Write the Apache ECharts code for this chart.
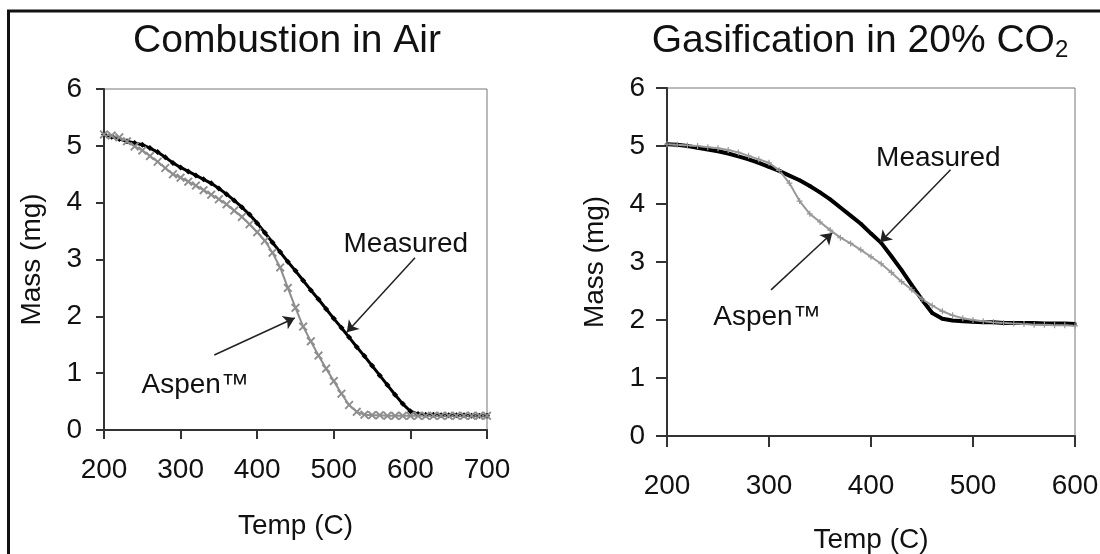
<!DOCTYPE html>
<html>
<head>
<meta charset="utf-8">
<title>Combustion / Gasification</title>
<script src="https://cdn.jsdelivr.net/npm/echarts@6.0.0/dist/echarts.min.js"></script>
<style>
html,body{margin:0;padding:0;background:#fff;}
#main{width:1100px;height:554px;}
</style>
</head>
<body>
<div id="main"></div>
<script>
var FONT = '"Liberation Sans", Arial, sans-serif';

// 燃烧 - 空气
var airTemp = [200,210,220,230,240,250,260,270,280,290,300,310,320,330,340,350,360,370,380,390,
  400,410,420,430,440,450,460,470,480,490,500,510,520,530,540,550,560,570,580,590,
  600,610,620,630,640,650,660,670,680,690,700];
var airMeasured = [5.20,5.16,5.12,5.08,5.05,5.02,4.96,4.89,4.80,4.70,
  4.62,4.55,4.48,4.41,4.34,4.25,4.15,4.04,3.92,3.79,
  3.64,3.47,3.30,3.13,2.96,2.80,2.63,2.46,2.30,2.13,
  1.96,1.80,1.63,1.46,1.30,1.13,0.96,0.79,0.62,0.46,
  0.33,0.28,0.27,0.27,0.26,0.26,0.26,0.26,0.25,0.25,0.25];
var airAspen = [5.20,5.18,5.15,5.08,4.99,4.92,4.82,4.72,4.61,4.50,
  4.44,4.37,4.30,4.22,4.14,4.06,3.97,3.86,3.75,3.62,
  3.48,3.33,3.12,2.86,2.50,2.15,1.82,1.56,1.31,1.08,
  0.86,0.64,0.44,0.32,0.27,0.26,0.26,0.25,0.25,0.25,
  0.25,0.25,0.25,0.25,0.25,0.25,0.25,0.25,0.25,0.25,0.25];

// 气化 - 20% CO2
var co2Temp = [200,210,220,230,240,250,260,270,280,290,300,310,320,330,340,350,360,370,380,390,
  400,410,420,430,440,450,460,470,480,490,500,510,520,530,540,550,560,570,580,590,600];
var co2Measured = [5.03,5.02,5.00,4.97,4.94,4.91,4.87,4.82,4.77,4.71,
  4.64,4.57,4.49,4.41,4.31,4.20,4.08,3.94,3.80,3.66,
  3.49,3.33,3.10,2.86,2.60,2.35,2.12,2.02,1.99,1.98,
  1.97,1.96,1.96,1.95,1.95,1.95,1.95,1.94,1.94,1.94,1.93];
var co2Aspen = [5.03,5.02,5.01,5.00,4.98,4.96,4.93,4.89,4.83,4.77,
  4.71,4.58,4.36,4.05,3.83,3.69,3.55,3.42,3.32,3.21,
  3.09,2.97,2.82,2.66,2.52,2.36,2.25,2.15,2.08,2.03,
  2.00,1.98,1.96,1.95,1.94,1.93,1.92,1.92,1.91,1.91,1.90];

var yTicks = [0,1,2,3,4,5,6];

// annotations: [text T, text m], arrow [from T, from m, to T, to m]
var airMeasuredNote = [594, 3.26], airMeasuredArrow = [606, 3.03, 517, 1.72];
var airAspenNote = [319, 0.79], airAspenArrow = [344, 1.32, 449, 1.97];
var co2MeasuredNote = [466, 4.79], co2MeasuredArrow = [478, 4.59, 409, 3.34];
var co2AspenNote = [298, 2.05], co2AspenArrow = [302, 2.52, 362, 3.50];

var CROSS = 'path://M0,1.5L1.5,0L5,3.5L8.5,0L10,1.5L6.5,5L10,8.5L8.5,10L5,6.5L1.5,10L0,8.5L3.5,5Z';
var PLUS = 'path://M4,0L6,0L6,4L10,4L10,6L6,6L6,10L4,10L4,6L0,6L0,4L4,4Z';

function pairs(xs, ys){
  return xs.map(function(x, i){ return [x, ys[i]]; });
}

function note(p, txt){
  return {
    coord: p, symbol: 'rect', symbolSize: 1,
    itemStyle: {color: 'rgba(0,0,0,0)'},
    label: {show: true, position: 'inside', formatter: txt, color: '#111', fontSize: 28, fontFamily: FONT}
  };
}

function arrow(a){
  return {
    silent: true, animation: false,
    symbol: ['none', 'arrow'], symbolSize: 11,
    lineStyle: {color: '#222', width: 1.5, type: 'solid'},
    label: {show: false},
    emphasis: {disabled: true},
    data: [[{coord: [a[0], a[1]]}, {coord: [a[2], a[3]]}]]
  };
}

function xAxisOf(idx, max, tick, margin, gap){
  return {
    gridIndex: idx, type: 'value', min: 200, max: max, interval: 100,
    axisLine: {show: true, lineStyle: {color: '#333', width: 2}},
    axisTick: {show: true, length: tick, lineStyle: {color: '#333', width: 2}},
    axisLabel: {margin: margin, fontSize: 28, color: '#111', fontFamily: FONT},
    splitLine: {show: false},
    name: 'Temp (C)', nameLocation: 'middle', nameGap: gap,
    nameTextStyle: {fontSize: 28, color: '#111', fontFamily: FONT}
  };
}

function yAxisOf(idx, tick, gap){
  return {
    gridIndex: idx, type: 'value', min: yTicks[0], max: yTicks[yTicks.length - 1], interval: 1,
    axisLine: {show: true, lineStyle: {color: '#333', width: 2}},
    axisTick: {show: true, length: tick, lineStyle: {color: '#333', width: 2}},
    axisLabel: {margin: 22, fontSize: 28, color: '#111', fontFamily: FONT},
    splitLine: {show: false},
    name: 'Mass (mg)', nameLocation: 'middle', nameGap: gap,
    nameTextStyle: {fontSize: 28, color: '#111', fontFamily: FONT}
  };
}

var chart = echarts.init(document.getElementById('main'), null, {renderer: 'canvas'});

var option = {
  backgroundColor: '#fff',
  animation: false,
  grid: [
    {left: 104, top: 89, width: 383, height: 341, show: true, borderColor: '#777', borderWidth: 1, outerBoundsMode: 'none'},
    {left: 667, top: 88, width: 408, height: 348, show: true, borderColor: '#777', borderWidth: 1, outerBoundsMode: 'none'}
  ],
  xAxis: [xAxisOf(0, 700, 9, 26, 82), xAxisOf(1, 600, 11, 36, 90)],
  yAxis: [yAxisOf(0, 8, 58), yAxisOf(1, 11, 58)],
  graphic: [
    {type: 'line', shape: {x1: 7, y1: 11, x2: 1100, y2: 11}, style: {stroke: '#111', lineWidth: 3}},
    {type: 'line', shape: {x1: 8.5, y1: 10, x2: 8.5, y2: 554}, style: {stroke: '#111', lineWidth: 3}},
    {type: 'text', x: 287, y: 41, style: {
      text: 'Combustion in Air', font: '39px ' + FONT, fill: '#111', align: 'center', verticalAlign: 'middle'}},
    {type: 'text', x: 860, y: 41, style: {
      text: 'Gasification in 20% CO{sub|2}', font: '39px ' + FONT, fill: '#111', align: 'center', verticalAlign: 'middle',
      rich: {sub: {fontSize: 24, fontFamily: FONT, padding: [18, 0, 0, 0]}}}}
  ],
  series: [
    {
      name: 'Measured', type: 'line', xAxisIndex: 0, yAxisIndex: 0,
      data: pairs(airTemp, airMeasured),
      symbol: 'diamond', symbolSize: 6, showSymbol: true,
      lineStyle: {color: '#000', width: 3}, itemStyle: {color: '#000'},
      markPoint: {silent: true, data: [note(airMeasuredNote, 'Measured')]},
      markLine: arrow(airMeasuredArrow)
    },
    {
      name: 'Aspen', type: 'line', xAxisIndex: 0, yAxisIndex: 0,
      data: pairs(airTemp, airAspen),
      symbol: CROSS, symbolSize: 9, showSymbol: true,
      lineStyle: {color: '#8e8e8e', width: 2}, itemStyle: {color: '#8e8e8e'},
      markPoint: {silent: true, data: [note(airAspenNote, 'Aspen™')]},
      markLine: arrow(airAspenArrow)
    },
    {
      name: 'Measured', type: 'line', xAxisIndex: 1, yAxisIndex: 1,
      data: pairs(co2Temp, co2Measured),
      symbol: 'rect', symbolSize: 3, showSymbol: true,
      lineStyle: {color: '#000', width: 4}, itemStyle: {color: '#000'},
      markPoint: {silent: true, data: [note(co2MeasuredNote, 'Measured')]},
      markLine: arrow(co2MeasuredArrow)
    },
    {
      name: 'Aspen', type: 'line', xAxisIndex: 1, yAxisIndex: 1,
      data: pairs(co2Temp, co2Aspen),
      symbol: PLUS, symbolSize: 6, showSymbol: true,
      lineStyle: {color: '#999', width: 2}, itemStyle: {color: '#999'},
      markPoint: {silent: true, data: [note(co2AspenNote, 'Aspen™')]},
      markLine: arrow(co2AspenArrow)
    }
  ]
};

chart.setOption(option);
</script>
</body>
</html>
